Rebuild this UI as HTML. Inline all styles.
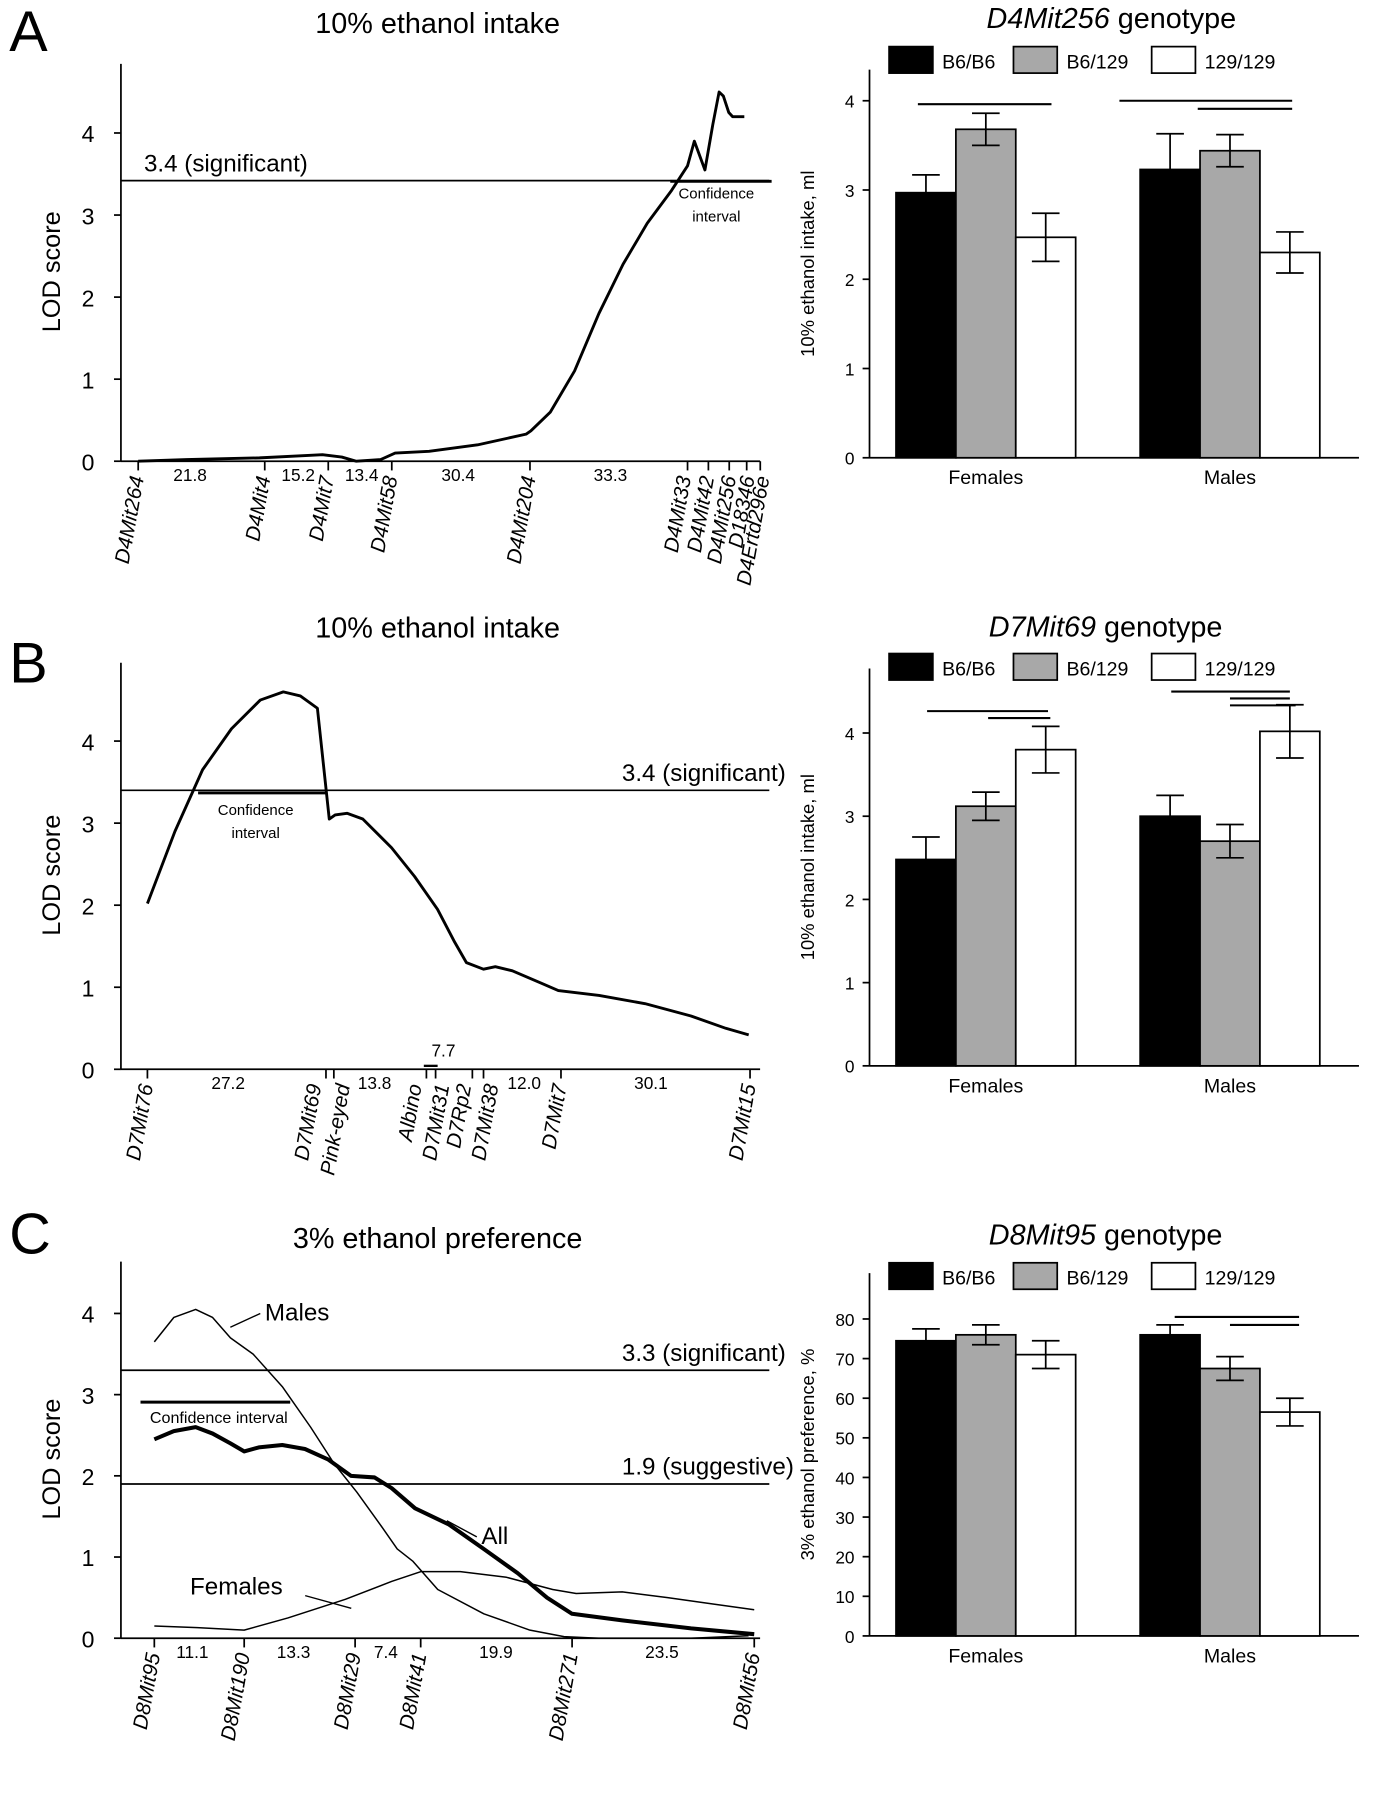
<!DOCTYPE html>
<html><head><meta charset="utf-8">
<style>
html,body{margin:0;padding:0;background:#fff;}
svg{display:block;font-family:"Liberation Sans",Arial,sans-serif;}
</style></head>
<body>
<svg id="fig" width="1382" height="1800" viewBox="0 0 1200 1562" xmlns="http://www.w3.org/2000/svg">
  <rect width="1200" height="1562" fill="#fff"/>
  <text x="8" y="44" font-size="50">A</text>
  <text x="8" y="592" font-size="50">B</text>
  <text x="8" y="1088" font-size="50">C</text>
  <g id="root"></g>
</svg>
<script>
// ---------- DATA ----------
const aMarkers = ["D4Mit264","D4Mit4","D4Mit7","D4Mit58","D4Mit204","D4Mit33","D4Mit42","D4Mit256","D18346","D4Ertd296e"];
const aMarkerCM = [0,26.1,39.2,52.3,80.8,113.3,117.6,121.9,125.5,128.3];
const aDistLabels = ["21.8","15.2","13.4","30.4","33.3"];
const aDistCM = [10.7,33.0,46.1,66.0,97.4];
const aCurveCM = [0,10,25,35,38,42,45,50,53,60,70,80,81,85,90,95,100,105,110,113.3,114.7,116.9,118.5,119.8,120.7,121.8,122.6,125];
const aCurveLOD = [0,0.02,0.04,0.07,0.08,0.05,0,0.02,0.1,0.12,0.2,0.33,0.37,0.6,1.1,1.8,2.4,2.9,3.3,3.6,3.9,3.55,4.1,4.5,4.45,4.25,4.2,4.2];
const bMarkers = ["D7Mit76","D7Mit69","Pink-eyed","Albino","D7Mit31","D7Rp2","D7Mit38","D7Mit7","D7Mit15"];
const bMarkerCM = [0,27.2,28.4,42.5,43.9,49.5,51.2,63.0,91.8];
const bDistLabels = ["27.2","13.8","7.7","12.0","30.1"];
const bDistCM = [12.3,34.6,45.1,57.4,76.7];
const bCurveCM = [0,4.2,8.4,12.8,17.2,20.7,23.3,25.9,27.7,28.6,30.4,32.8,37.2,40.7,44.2,46.8,48.6,51.2,53.0,55.6,60,62.6,68.8,75.8,82.8,88.1,91.6];
const bCurveLOD = [2.02,2.9,3.65,4.15,4.5,4.6,4.55,4.4,3.05,3.1,3.12,3.05,2.7,2.35,1.95,1.55,1.3,1.22,1.25,1.2,1.05,0.96,0.9,0.8,0.65,0.5,0.42];
const cMarkers = ["D8Mit95","D8Mit190","D8Mit29","D8Mit41","D8Mit271","D8Mit56"];
const cMarkerCM = [0,11.1,24.8,32.9,51.6,74.1];
const cDistLabels = ["11.1","13.3","7.4","19.9","23.5"];
const cDistCM = [4.7,17.2,28.6,42.2,62.7];
const cMalesCM = [0,2.4,5.1,7.2,9.4,12.2,15.8,19.3,22.2,25.0,27.9,30.0,31.9,35.0,40.7,46.4,50.6,54.9,66.3,73.4];
const cMalesLOD = [3.65,3.95,4.05,3.95,3.7,3.5,3.1,2.6,2.15,1.8,1.4,1.1,0.95,0.6,0.3,0.1,0.02,0,0,0.03];
const cAllCM = [0,2.4,5.1,7.2,9.4,11.1,12.9,15.8,18.6,21.5,24.3,27.2,29.3,32.2,36.4,40.7,44.9,48.5,51.6,57.8,66.3,74.1];
const cAllLOD = [2.45,2.55,2.6,2.52,2.4,2.3,2.35,2.38,2.33,2.2,2.0,1.98,1.85,1.6,1.4,1.1,0.8,0.5,0.3,0.22,0.12,0.05];
const cFemCM = [0,5.3,11.1,16.5,23.6,29.3,32.9,37.8,43.5,49.2,52.1,57.8,63.4,69.1,74.1];
const cFemLOD = [0.15,0.13,0.1,0.25,0.48,0.7,0.82,0.82,0.75,0.6,0.55,0.57,0.5,0.42,0.35];
const barGroups = ["Females","Males"];
const genotypes = ["B6/B6","B6/129","129/129"];
const aBarVals = [[2.97,3.68,2.47],[3.23,3.44,2.3]];
const aBarErr = [[0.2,0.18,0.27],[0.4,0.18,0.23]];
const bBarVals = [[2.48,3.12,3.8],[3.0,2.7,4.02]];
const bBarErr = [[0.27,0.17,0.28],[0.25,0.2,0.32]];
const cBarVals = [[74.5,76,71],[76,67.5,56.5]];
const cBarErr = [[3,2.5,3.5],[2.5,3,3.5]];
const lodTicks = [0,1,2,3,4];
const mlTicks = [0,1,2,3,4];
const pctTicks = [0,10,20,30,40,50,60,70,80];

// ---------- helpers ----------
const NS="http://www.w3.org/2000/svg";
const root=document.getElementById('root');
function el(tag,attrs,parent,text){
  const e=document.createElementNS(NS,tag);
  for(const k in attrs)e.setAttribute(k,attrs[k]);
  if(text!==undefined)e.textContent=text;
  (parent||root).appendChild(e);return e;
}
function line(x1,y1,x2,y2,w,name,p){
  const e=el('line',{x1,y1,x2,y2,stroke:'#000','stroke-width':w||1.5},p);
  
  
  return e;
}
function txt(x,y,s,size,name,extra,p){
  const a=Object.assign({x,y,'font-size':size},extra||{});
  const e=el('text',a,p,s);
  
  
  return e;
}

function lodPanel(cfg){
  const g=el('g',{});
  
  
  const X=cm=>cfg.x0+cm*cfg.pxcm;
  const Y=v=>cfg.y0-v*cfg.pxu;
  line(105,cfg.top,105,cfg.y0,1.5,'y-axis',g);
  line(105,cfg.y0,cfg.xEnd,cfg.y0,1.5,'x-axis',g);
  lodTicks.forEach(t=>{
    line(99,Y(t),105,Y(t),1.5,'y-tick',g);
    txt(82,Y(t)+8,String(t),20,'y-tick-label',{'text-anchor':'end'},g);
  });
  txt(0,0,'LOD score',22,'y-axis-title',{'text-anchor':'middle',transform:`translate(52,${(cfg.top+cfg.y0)/2+8}) rotate(-90)`},g);
  txt(cfg.titleX,cfg.titleY,cfg.title,25,'chart-title',{'text-anchor':'middle'},g);
  cfg.markers.forEach((m,i)=>{
    const x=X(cfg.markerCM[i]);
    const off=cfg.labelOff?cfg.labelOff[i]:0;
    line(x,cfg.y0,x,cfg.y0+8,1.5,'marker-tick',g);
    txt(0,0,m,18,'marker-label',{'font-style':'italic','text-anchor':'end',transform:`translate(${x+5+off},${cfg.y0+14}) rotate(-80)`},g);
  });
  cfg.distLabels.forEach((d,i)=>{
    txt(X(cfg.distCM[i]),cfg.y0+(cfg.distDy?cfg.distDy[i]:17),d,15,'distance-label',{'text-anchor':'middle'},g);
  });
  cfg.curves.forEach(c=>{
    const d=c.cm.map((v,i)=>(i?'L':'M')+X(v).toFixed(1)+','+Y(c.lod[i]).toFixed(1)).join(' ');
    const p=el('path',{d,fill:'none',stroke:'#000','stroke-width':c.w,'stroke-linejoin':'round'},g);
    
    
  });
  cfg.thresholds.forEach(t=>{
    line(105,Y(t.v),cfg.xEnd+8,Y(t.v),1.5,'threshold-line',g);
    txt(t.lx,Y(t.v)-8,t.label,21,'threshold-label',{},g);
  });
  return {g,X,Y};
}

function barPanel(cfg){
  const g=el('g',{});
  
  
  const Y=v=>cfg.y0-v*cfg.pxu;
  line(755,cfg.top,755,cfg.y0,1.5,'y-axis',g);
  line(755,cfg.y0,1180,cfg.y0,1.5,'x-axis',g);
  cfg.ticks.forEach(t=>{
    line(749,Y(t),755,Y(t),1.5,'y-tick',g);
    txt(742,Y(t)+6,String(t),15,'y-tick-label',{'text-anchor':'end'},g);
  });
  txt(0,0,cfg.ylabel,16,'y-axis-title',{'text-anchor':'middle',transform:`translate(707,${(cfg.top+cfg.y0)/2}) rotate(-90)`},g);
  const t=txt(cfg.titleX,cfg.titleY,'',25,'chart-title',{'text-anchor':'middle'},g);
  el('tspan',{'font-style':'italic'},t,cfg.marker);
  el('tspan',{},t,' genotype');
  const fills=['#000','#a8a8a8','#fff'];
  const lx=[772,880,1000];
  genotypes.forEach((gn,i)=>{
    const r=el('rect',{x:lx[i],y:cfg.legY,width:38,height:23,fill:fills[i],stroke:'#000','stroke-width':1.5},g);
    
    
    txt(lx[i]+46,cfg.legY+19,gn,17,'legend-label',{},g);
  });
  const gx=[778,990];
  barGroups.forEach((grp,gi)=>{
    cfg.vals[gi].forEach((v,i)=>{
      const x=gx[gi]+i*52;
      const r=el('rect',{x,y:Y(v),width:52,height:cfg.y0-Y(v),fill:fills[i],stroke:'#000','stroke-width':1.5},g);
      
      
      const e=cfg.err[gi][i],cx=x+26;
      line(cx,Y(v+e),cx,Y(v-e),1.5,'error-bar',g);
      line(cx-12,Y(v+e),cx+12,Y(v+e),1.5,'error-cap',g);
      line(cx-12,Y(v-e),cx+12,Y(v-e),1.5,'error-cap',g);
    });
    txt(gx[gi]+78,cfg.y0+23,grp,17,'category-label',{'text-anchor':'middle'},g);
  });
  cfg.sig.forEach(s=>line(s[0],s[2],s[1],s[2],1.8,'significance-line',g));
}

// ---------- Panel A ----------
lodPanel({name:'panel-a-lod',x0:120,pxcm:4.21,y0:400,pxu:71.25,top:55,xEnd:660,
  title:'10% ethanol intake',titleX:380,titleY:28,
  markers:aMarkers,markerCM:aMarkerCM,distLabels:aDistLabels,distCM:aDistCM,
  labelOff:[0,0,0,0,0,-2,0,1,2,3],
  curves:[{cm:aCurveCM,lod:aCurveLOD,w:2.5,name:'lod-curve'}],
  thresholds:[{v:3.42,label:'3.4 (significant)',lx:125}]});
line(582,157,670,157,2.5,'confidence-interval');
txt(622,172,'Confidence',13,'confidence-label',{'text-anchor':'middle'});
txt(622,192,'interval',13,'confidence-label',{'text-anchor':'middle'});
barPanel({name:'panel-a-bars',y0:397,pxu:77.5,top:60,ticks:mlTicks,ylabel:'10% ethanol intake, ml',
  marker:'D4Mit256',titleX:965,titleY:24,legY:40,vals:aBarVals,err:aBarErr,
  sig:[[797,913,90],[972,1122,87],[1040,1122,94]]});

// ---------- Panel B ----------
lodPanel({name:'panel-b-lod',x0:128,pxcm:5.7,y0:928,pxu:71.25,top:575,xEnd:660,
  title:'10% ethanol intake',titleX:380,titleY:553,
  markers:bMarkers,markerCM:bMarkerCM,distLabels:bDistLabels,distCM:bDistCM,distDy:[17,17,-11,17,17],
  labelOff:[0,-9,9,-9,7,-6,8,0,0],
  curves:[{cm:bCurveCM,lod:bCurveLOD,w:2.5,name:'lod-curve'}],
  thresholds:[{v:3.4,label:'3.4 (significant)',lx:540}]});
line(368,925,380,925,2,'interval-bar');
line(172,688,283,688,2.5,'confidence-interval');
txt(222,707,'Confidence',13,'confidence-label',{'text-anchor':'middle'});
txt(222,727,'interval',13,'confidence-label',{'text-anchor':'middle'});
barPanel({name:'panel-b-bars',y0:925,pxu:72.25,top:580,ticks:mlTicks,ylabel:'10% ethanol intake, ml',
  marker:'D7Mit69',titleX:960,titleY:552,legY:567,vals:bBarVals,err:bBarErr,
  sig:[[805,910,617],[858,912,623],[1017,1120,600],[1068,1120,606],[1068,1125,612]]});

// ---------- Panel C ----------
lodPanel({name:'panel-c-lod',x0:134,pxcm:7.03,y0:1422,pxu:70.5,top:1095,xEnd:660,
  title:'3% ethanol preference',titleX:380,titleY:1083,
  markers:cMarkers,markerCM:cMarkerCM,distLabels:cDistLabels,distCM:cDistCM,
  curves:[{cm:cMalesCM,lod:cMalesLOD,w:1.3,name:'males-curve'},
          {cm:cAllCM,lod:cAllLOD,w:3.5,name:'all-curve'},
          {cm:cFemCM,lod:cFemLOD,w:1.3,name:'females-curve'}],
  thresholds:[{v:3.3,label:'3.3 (significant)',lx:540},{v:1.9,label:'1.9 (suggestive)',lx:540}]});
line(122,1217,252,1217,2.5,'confidence-interval');
txt(190,1235,'Confidence interval',14,'confidence-label',{'text-anchor':'middle'});
txt(230,1146,'Males',21,'males-label');
line(226,1140,200,1152,1.2,'males-leader');
txt(165,1384,'Females',21,'females-label');
line(265,1385,305,1396,1.2,'females-leader');
txt(418,1340,'All',21,'all-label');
line(414,1334,388,1320,1.2,'all-leader');
barPanel({name:'panel-c-bars',y0:1420,pxu:3.44,top:1105,ticks:pctTicks,ylabel:'3% ethanol preference, %',
  marker:'D8Mit95',titleX:960,titleY:1080,legY:1096,vals:cBarVals,err:cBarErr,
  sig:[[1020,1128,1143],[1068,1128,1150]]});
</script>
</body></html>
